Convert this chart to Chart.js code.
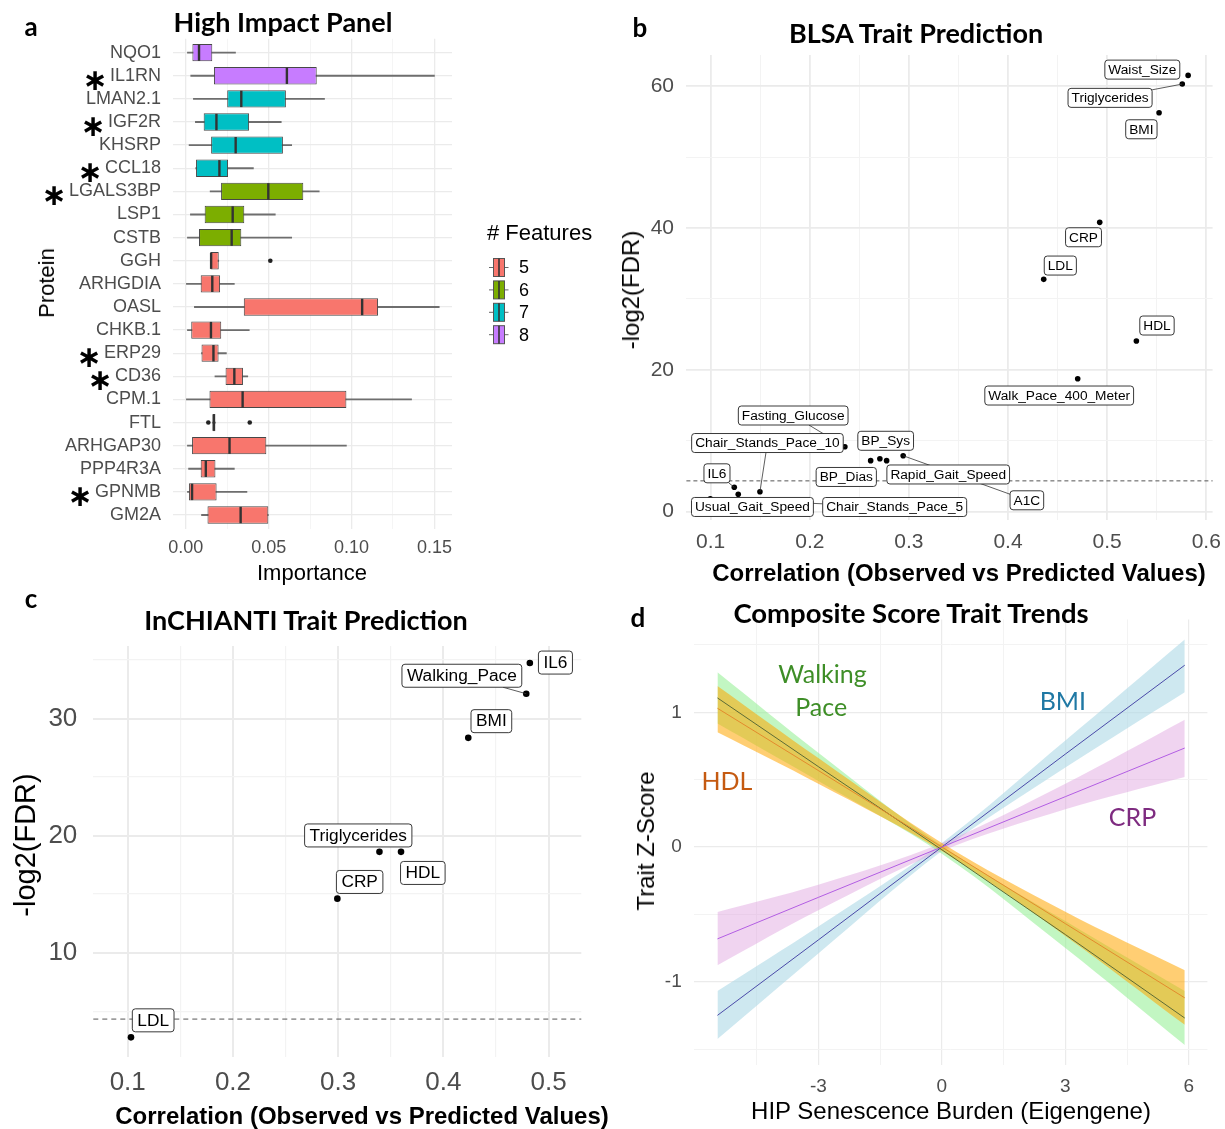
<!DOCTYPE html>
<html>
<head>
<meta charset="utf-8">
<script src="https://cdn.jsdelivr.net/npm/chart.js@4.4.1/dist/chart.umd.min.js"></script>
<style>
  html, body { margin: 0; padding: 0; background: #fff; }
  #page { position: relative; width: 1225px; height: 1129px; overflow: hidden; background: #fff; }
  .panel { position: absolute; }
  .panel canvas { display: block; }
  .t { position: absolute; white-space: nowrap; transform: translate(-50%, -50%); line-height: 1; color: #000; }
  .rot { transform: translate(-50%, -50%) rotate(-90deg); }
  .head { font-family: 'Lato', 'Open Sans', sans-serif; font-weight: 700; }
  .axis { font-family: 'Liberation Sans', Arial, sans-serif; }
</style>
</head>
<body>
<div id="page">
  <div class="panel" style="left:0;top:0;width:615px;height:590px"><canvas id="chartA" width="615" height="590"></canvas></div>
  <div class="panel" style="left:615px;top:0;width:610px;height:590px"><canvas id="chartB" width="610" height="590"></canvas></div>
  <div class="panel" style="left:0;top:590px;width:615px;height:539px"><canvas id="chartC" width="615" height="539"></canvas></div>
  <div class="panel" style="left:615px;top:590px;width:610px;height:539px"><canvas id="chartD" width="610" height="539"></canvas></div>

  <div class="t head" style="left:31px;top:26px;font-size:26px">a</div>
  <div class="t head" style="left:283px;top:21px;font-size:27px">High Impact Panel</div>
  <div class="t head" style="left:640px;top:27px;font-size:26px">b</div>
  <div class="t head" style="left:916px;top:32px;font-size:27px">BLSA Trait Prediction</div>
  <div class="t head" style="left:31px;top:598px;font-size:26px">c</div>
  <div class="t head" style="left:306px;top:619px;font-size:27px">InCHIANTI Trait Prediction</div>
  <div class="t head" style="left:638px;top:617px;font-size:26px">d</div>
  <div class="t head" style="left:911px;top:613px;font-size:27.5px">Composite Score Trait Trends</div>

  <div class="t axis rot" style="left:47px;top:283px;font-size:22px">Protein</div>
  <div class="t axis" style="left:312px;top:573px;font-size:22px">Importance</div>
  <div class="t axis rot" style="left:631px;top:290px;font-size:24px">-log2(FDR)</div>
  <div class="t axis" style="left:959px;top:573px;font-size:24px;font-weight:700">Correlation (Observed vs Predicted Values)</div>
  <div class="t axis rot" style="left:25px;top:845px;font-size:29px">-log2(FDR)</div>
  <div class="t axis" style="left:362px;top:1116px;font-size:24px;font-weight:700">Correlation (Observed vs Predicted Values)</div>
  <div class="t axis rot" style="left:646px;top:841px;font-size:24px">Trait Z-Score</div>
  <div class="t axis" style="left:951px;top:1111px;font-size:24px">HIP Senescence Burden (Eigengene)</div>
</div>

<script>
// ---------- Panel a: protein importance (box summaries) ----------
const proteins = ['NQO1','IL1RN','LMAN2.1','IGF2R','KHSRP','CCL18','LGALS3BP','LSP1','CSTB','GGH',
  'ARHGDIA','OASL','CHKB.1','ERP29','CD36','CPM.1','FTL','ARHGAP30','PPP4R3A','GPNMB','GM2A'];
const featureCount = [8,8,7,7,7,7,6,6,6,5,5,5,5,5,5,5,5,5,5,5,5];
const starred = ['IL1RN','IGF2R','CCL18','LGALS3BP','ERP29','CD36','GPNMB'];
const whiskerLow  = [0.001,0.003,0.0046,0.0058,0.002,0.006,0.0147,0.0028,0.001,0.0149,0.0,0.0052,0.001,0.0095,0.0176,0.0,0.0162,0.001,0.0017,0.001,0.0095];
const quartile1   = [0.004,0.017,0.025,0.0108,0.0153,0.0062,0.0213,0.0114,0.008,0.0149,0.009,0.035,0.0033,0.0095,0.024,0.0143,0.0162,0.0038,0.009,0.0019,0.0131];
const medians     = [0.008,0.061,0.0335,0.0185,0.0301,0.0203,0.0498,0.0283,0.0277,0.0153,0.016,0.1064,0.0152,0.0167,0.0293,0.0343,0.0169,0.0264,0.0121,0.0038,0.0331];
const quartile3   = [0.016,0.079,0.0604,0.0382,0.0586,0.0255,0.0709,0.0353,0.0335,0.0199,0.0207,0.116,0.0214,0.0198,0.0345,0.0969,0.0179,0.0486,0.0179,0.0186,0.0498];
const whiskerHigh = [0.030,0.150,0.0837,0.0576,0.0639,0.0408,0.0805,0.054,0.0639,0.0199,0.0293,0.1529,0.0383,0.0245,0.0374,0.1362,0.0179,0.0969,0.0293,0.0369,0.0498];
const outlierProtein = ['GGH','FTL','FTL'];
const outlierValue   = [0.051,0.0136,0.0386];
const featureLevels  = [5,6,7,8];
const featureColors  = ['#F8766D','#7CAE00','#00BFC4','#C77CFF'];
const importanceMajor = [0,0.05,0.10,0.15];
const importanceMinor = [0.025,0.075,0.125];

// ---------- Panel b: BLSA ----------
const blsaTraits = ['Waist_Size','Triglycerides','BMI','CRP','LDL','HDL','Walk_Pace_400_Meter','Fasting_Glucose',
  'Chair_Stands_Pace_10','IL6','Usual_Gait_Speed','Chair_Stands_Pace_5','BP_Dias','BP_Sys','Rapid_Gait_Speed','A1C'];
const blsaCorr = [0.5817,0.5758,0.5524,0.4925,0.436,0.5295,0.4703,0.2354,0.1497,0.1238,0.1278,0.0996,0.2614,0.2707,0.2775,0.2942];
const blsaNegLog2FDR = [61.52,60.3,56.25,40.79,32.75,24.05,18.73,9.14,2.79,3.41,2.43,1.79,7.17,7.45,7.17,7.87];
const blsaXMajor = [0.1,0.2,0.3,0.4,0.5,0.6];
const blsaXMinor = [0.15,0.25,0.35,0.45,0.55];
const blsaYMajor = [0,20,40,60];
const blsaYMinor = [10,30,50];

// ---------- Panel c: InCHIANTI ----------
const chiantiTraits = ['IL6','Walking_Pace','BMI','Triglycerides','HDL','CRP','LDL'];
const chiantiCorr = [0.4821,0.4787,0.4236,0.3392,0.3597,0.2992,0.1031];
const chiantiNegLog2FDR = [34.75,32.12,28.35,18.61,18.61,14.61,2.76];
const chiantiXMajor = [0.1,0.2,0.3,0.4,0.5];
const chiantiXMinor = [0.15,0.25,0.35,0.45];
const chiantiYMajor = [10,20,30];
const chiantiYMinor = [5,15,25,35];

// significance threshold, -log2(0.05)
const fdrThreshold = 4.32;

// ---------- Panel d: composite score trends ----------
const burden = [-5.45,-3,0,3,5.9];
const bmiFit  = [-1.25,-0.69,0.0,0.69,1.35];
const bmiLow  = [-1.425,-0.79,-0.03,0.59,1.15];
const bmiHigh = [-1.069,-0.59,0.03,0.79,1.54];
const crpFit  = [-0.682,-0.374,0.0,0.374,0.735];
const crpLow  = [-0.878,-0.47,-0.03,0.28,0.52];
const crpHigh = [-0.483,-0.28,0.03,0.47,0.945];
const walkFit  = [1.107,0.597,-0.02,-0.65,-1.27];
const walkLow  = [0.917,0.49,-0.05,-0.75,-1.47];
const walkHigh = [1.298,0.70,0.01,-0.55,-1.07];
const hdlFit  = [1.03,0.568,0.0,-0.569,-1.12];
const hdlLow  = [0.852,0.47,-0.03,-0.66,-1.32];
const hdlHigh = [1.196,0.66,0.03,-0.48,-0.915];
const burdenMajor = [-3,0,3,6];
const burdenMinor = [-4.5,-1.5,1.5,4.5];
const zMajor = [-1,0,1];
const zMinor = [-1.5,-0.5,0.5,1.5];
const trendNames = ['Walking','Pace','BMI','HDL','CRP'];
const trendNameX = [-2.9,-2.93,2.94,-5.22,4.63];
const trendNameY = [1.277,1.032,1.08,0.485,0.215];
const trendNameColors = ['#3E8E27','#3E8E27','#1F78A4','#C55A11','#7E2B80'];

// ---------- layout (label placement, pixels relative to the point) ----------
const blsaLabelShift = [[-45.8,-5.8],[-72.2,13.8],[-17.7,16.5],[-16.2,14.9],[16.6,-13.8],[20.6,-15.5],[-18.5,16.8],
  [-51.7,-31.2],[7.5,-48.7],[-17.3,-14],[14.2,12.7],[184.4,8.2],[-24.4,16.3],[5.8,-17.9],[61.6,13.8],[123.7,44.6]];
const blsaSegment = [0,1,0,0,0,0,0,1,1,1,0,1,0,0,0,1];
const chiantiLabelShift = [[25.6,-0.4],[-64.4,-18],[23.1,-16.7],[-21.2,-16.4],[21.8,21.1],[22.3,-16.7],[22.2,-17]];
const chiantiSegment = [0,1,0,0,0,0,0];

Chart.defaults.font.family = "'Liberation Sans', Arial, sans-serif";
Chart.defaults.color = '#4D4D4D';
Chart.defaults.animation = false;
Chart.defaults.plugins.legend.display = false;
Chart.defaults.plugins.tooltip.enabled = false;

const GRID_MAJOR = '#EBEBEB';
const GRID_MINOR = '#F3F3F3';

// linear axis with fixed box size, explicit major/minor grid and ggplot-like look
function axis(o) {
  const all = [...o.major, ...o.minor].sort((a, b) => a - b);
  return {
    type: 'linear', min: o.min, max: o.max, reverse: !!o.reverse, bounds: 'data',
    offset: false, beginAtZero: false,
    border: { display: false },
    grid: {
      offset: false,
      drawTicks: false,
      color: c => (o.major.includes(c.tick && c.tick.value) ? GRID_MAJOR : GRID_MINOR),
      lineWidth: c => (o.major.includes(c.tick && c.tick.value) ? (o.majorWidth || 1.3) : (o.minorWidth || 0.8))
    },
    ticks: {
      autoSkip: false, maxRotation: 0, padding: o.padding, color: '#4D4D4D',
      font: { size: o.fontSize },
      callback: v => (o.major.includes(v) ? o.fmt(v) : '')
    },
    afterBuildTicks: s => { s.ticks = all.map(v => ({ value: v })); },
    afterFit: s => {
      if (s.isHorizontal()) { s.height = o.size; s.paddingLeft = 0; s.paddingRight = 0; }
      else { s.width = o.size; s.paddingTop = 0; s.paddingBottom = 0; }
    }
  };
}

// ---------- Panel a ----------
const rowIndex = name => proteins.indexOf(name) + 1;
const boxColors = featureCount.map(n => featureColors[featureLevels.indexOf(n)]);

const boxExtras = {
  id: 'boxExtras',
  afterDatasetsDraw(chart) {
    const { ctx, scales } = chart;
    const meta = chart.getDatasetMeta(1);
    ctx.save();
    // medians
    ctx.strokeStyle = '#333333';
    ctx.lineWidth = 2.4;
    meta.data.forEach((bar, i) => {
      const x = scales.x.getPixelForValue(medians[i]);
      const h = bar.height;
      ctx.beginPath();
      ctx.moveTo(x, bar.y - h / 2 + 0.5);
      ctx.lineTo(x, bar.y + h / 2 - 0.5);
      ctx.stroke();
    });
    // asterisks in front of the highlighted proteins
    ctx.font = "18px 'Liberation Sans', Arial, sans-serif";
    const labelRight = chart.chartArea.left - 12;
    starred.forEach(name => {
      const y = scales.y.getPixelForValue(rowIndex(name));
      const w = ctx.measureText(name).width;
      ctx.save();
      ctx.font = "bold 30px 'DejaVu Sans', sans-serif";
      ctx.fillStyle = '#000';
      ctx.textAlign = 'center';
      ctx.textBaseline = 'middle';
      ctx.fillText('\u2217', labelRight - w - 15, y + 6);
      ctx.restore();
    });
    // legend
    const lx = 487, ly = 234;
    ctx.fillStyle = '#000';
    ctx.textAlign = 'left';
    ctx.textBaseline = 'middle';
    ctx.font = "22px 'Liberation Sans', Arial, sans-serif";
    ctx.fillText('# Features', lx, ly);
    ctx.font = "18px 'Liberation Sans', Arial, sans-serif";
    featureLevels.forEach((lev, i) => {
      const cy = 267.5 + i * 22.4;
      ctx.strokeStyle = '#666';
      ctx.lineWidth = 1;
      ctx.beginPath(); ctx.moveTo(489, cy); ctx.lineTo(508.5, cy); ctx.stroke();
      ctx.fillStyle = featureColors[i];
      ctx.fillRect(493.5, cy - 9, 11, 18);
      ctx.strokeStyle = '#555';
      ctx.strokeRect(493.5, cy - 9, 11, 18);
      ctx.strokeStyle = '#333';
      ctx.lineWidth = 1.6;
      ctx.beginPath(); ctx.moveTo(499, cy - 9); ctx.lineTo(499, cy + 9); ctx.stroke();
      ctx.fillStyle = '#000';
      ctx.fillText(String(lev), 519, cy + 1);
    });
    ctx.restore();
  }
};

new Chart(document.getElementById('chartA'), {
  type: 'bar',
  data: {
    datasets: [
      {
        label: 'whiskers', grouped: false, order: 3,
        data: proteins.map((p, i) => ({ y: i + 1, x: [whiskerLow[i], whiskerHigh[i]] })),
        backgroundColor: '#6E6E6E', barThickness: 1.2, borderWidth: 0
      },
      {
        label: 'boxes', grouped: false, order: 2,
        data: proteins.map((p, i) => ({ y: i + 1, x: [quartile1[i], quartile3[i]] })),
        backgroundColor: boxColors, borderColor: '#474747', borderWidth: 1, borderSkipped: false,
        barPercentage: 0.75, categoryPercentage: 1.0
      },
      {
        label: 'outliers', type: 'scatter', order: 1,
        data: outlierProtein.map((p, i) => ({ x: outlierValue[i], y: rowIndex(p) })),
        pointRadius: 2.3, pointBackgroundColor: '#222', pointBorderWidth: 0
      }
    ]
  },
  options: {
    indexAxis: 'y',
    responsive: false,
    layout: { padding: { left: 0, top: 38.8, right: 163, bottom: 0 } },
    scales: {
      x: axis({ min: -0.0077, max: 0.1606, major: importanceMajor, minor: importanceMinor, fontSize: 18,
        padding: 8, size: 61.1, fmt: v => v.toFixed(2) }),
      y: axis({ min: 0.4, max: 21.6, reverse: true, major: proteins.map((p, i) => i + 1), minor: [],
        fontSize: 18, padding: 12, size: 173, fmt: v => proteins[v - 1] })
    }
  },
  plugins: [boxExtras]
});

// ---------- labelled scatter (panels b, c) ----------
const repelLabels = {
  id: 'repelLabels',
  afterDatasetsDraw(chart, args, o) {
    const { ctx, chartArea, scales } = chart;
    ctx.save();
    // significance threshold
    const ty = scales.y.getPixelForValue(fdrThreshold);
    ctx.strokeStyle = '#555';
    ctx.lineWidth = 1;
    ctx.setLineDash(o.dash);
    ctx.beginPath(); ctx.moveTo(chartArea.left, ty); ctx.lineTo(chartArea.right, ty); ctx.stroke();
    ctx.setLineDash([]);
    const meta = chart.getDatasetMeta(0);
    ctx.font = o.font;
    const boxes = o.names.map((n, i) => {
      const p = meta.data[i];
      const w = ctx.measureText(n).width + 2 * o.padX;
      return { n, px: p.x, py: p.y, cx: p.x + o.shift[i][0], cy: p.y + o.shift[i][1], w, h: o.boxH, seg: o.seg[i] };
    });
    ctx.strokeStyle = '#333';
    ctx.lineWidth = 0.8;
    boxes.forEach(b => {
      if (!b.seg) return;
      const dx = b.px - b.cx, dy = b.py - b.cy;
      const tx = dx !== 0 ? (b.w / 2) / Math.abs(dx) : Infinity;
      const tyy = dy !== 0 ? (b.h / 2) / Math.abs(dy) : Infinity;
      const t = Math.min(tx, tyy);
      ctx.beginPath(); ctx.moveTo(b.cx + dx * t, b.cy + dy * t); ctx.lineTo(b.px, b.py); ctx.stroke();
    });
    boxes.forEach(b => {
      const x = b.cx - b.w / 2, y = b.cy - b.h / 2;
      ctx.beginPath();
      ctx.roundRect(x, y, b.w, b.h, 3);
      ctx.fillStyle = '#fff';
      ctx.fill();
      ctx.strokeStyle = '#222';
      ctx.lineWidth = 0.9;
      ctx.stroke();
      ctx.fillStyle = '#000';
      ctx.textAlign = 'center';
      ctx.textBaseline = 'middle';
      ctx.fillText(b.n, b.cx, b.cy + 0.5);
    });
    ctx.restore();
  }
};

new Chart(document.getElementById('chartB'), {
  type: 'scatter',
  data: { datasets: [{ data: blsaTraits.map((t, i) => ({ x: blsaCorr[i], y: blsaNegLog2FDR[i] })),
    pointRadius: 2.8, pointBackgroundColor: '#000', pointBorderWidth: 0 }] },
  options: {
    responsive: false,
    layout: { padding: { left: 0, top: 55, right: 12.4, bottom: 0 } },
    scales: {
      x: axis({ min: 0.0755, max: 0.6064, major: blsaXMajor, minor: blsaXMinor, fontSize: 21, padding: 10,
        size: 70, fmt: v => v.toFixed(1), majorWidth: 1.8, minorWidth: 1 }),
      y: axis({ min: -1.2, max: 64.4, major: blsaYMajor, minor: blsaYMinor, fontSize: 21, padding: 12.4,
        size: 71.4, fmt: v => String(v), majorWidth: 1.8, minorWidth: 1 })
    },
    plugins: { repelLabels: { names: blsaTraits, shift: blsaLabelShift, seg: blsaSegment,
      font: "13.7px 'Liberation Sans', Arial, sans-serif", padX: 3.5, boxH: 19, dash: [4, 3] } }
  },
  plugins: [repelLabels]
});

new Chart(document.getElementById('chartC'), {
  type: 'scatter',
  data: { datasets: [{ data: chiantiTraits.map((t, i) => ({ x: chiantiCorr[i], y: chiantiNegLog2FDR[i] })),
    pointRadius: 3.3, pointBackgroundColor: '#000', pointBorderWidth: 0 }] },
  options: {
    responsive: false,
    layout: { padding: { left: 0, top: 56, right: 33.7, bottom: 0 } },
    scales: {
      x: axis({ min: 0.0673, max: 0.531, major: chiantiXMajor, minor: chiantiXMinor, fontSize: 26, padding: 10,
        size: 72, fmt: v => v.toFixed(1), majorWidth: 2, minorWidth: 1.2 }),
      y: axis({ min: 1.08, max: 36.2, major: chiantiYMajor, minor: chiantiYMinor, fontSize: 26, padding: 16,
        size: 93.3, fmt: v => String(v), majorWidth: 2, minorWidth: 1.2 })
    },
    plugins: { repelLabels: { names: chiantiTraits, shift: chiantiLabelShift, seg: chiantiSegment,
      font: "17.3px 'Liberation Sans', Arial, sans-serif", padX: 5, boxH: 23, dash: [5, 4] } }
  },
  plugins: [repelLabels]
});

// ---------- Panel d ----------
const pts = ys => burden.map((x, i) => ({ x, y: ys[i] }));
const band = (ys, col, order, fill) => ({ data: pts(ys), borderWidth: 0, pointRadius: 0, backgroundColor: col,
  fill, order, tension: 0.35 });
const fitLine = (ys, col, order) => ({ data: pts(ys), borderColor: col, borderWidth: 1, pointRadius: 0, fill: false, order });

const trendNamesPlugin = {
  id: 'trendNames',
  afterDatasetsDraw(chart) {
    const { ctx, scales } = chart;
    ctx.save();
    ctx.font = "25px 'Lato', 'Open Sans', sans-serif";
    ctx.textAlign = 'center';
    ctx.textBaseline = 'middle';
    trendNames.forEach((n, i) => {
      ctx.fillStyle = trendNameColors[i];
      ctx.fillText(n, scales.x.getPixelForValue(trendNameX[i]), scales.y.getPixelForValue(trendNameY[i]));
    });
    ctx.restore();
  }
};

new Chart(document.getElementById('chartD'), {
  type: 'line',
  data: {
    datasets: [
      band(bmiHigh, 'rgba(173,216,230,0.6)', 20, '+1'), band(bmiLow, 'rgba(0,0,0,0)', 19, false),
      band(crpHigh, 'rgba(221,160,221,0.45)', 18, '+1'), band(crpLow, 'rgba(0,0,0,0)', 17, false),
      band(walkHigh, 'rgba(144,238,144,0.55)', 16, '+1'), band(walkLow, 'rgba(0,0,0,0)', 15, false),
      band(hdlHigh, 'rgba(255,165,0,0.55)', 14, '+1'), band(hdlLow, 'rgba(0,0,0,0)', 13, false),
      fitLine(bmiFit, '#4A4AA8', 4), fitLine(crpFit, '#B25DE3', 3),
      fitLine(walkFit, '#5C6B35', 2), fitLine(hdlFit, '#E38A2C', 1)
    ]
  },
  options: {
    responsive: false,
    layout: { padding: { left: 0, top: 29.4, right: 17.6, bottom: 0 } },
    scales: {
      x: axis({ min: -6.02, max: 6.45, major: burdenMajor, minor: burdenMinor, fontSize: 19, padding: 10.4,
        size: 63.8, fmt: v => String(v), majorWidth: 1.2, minorWidth: 1 }),
      y: axis({ min: -1.62, max: 1.69, major: zMajor, minor: zMinor, fontSize: 19, padding: 12.3,
        size: 79, fmt: v => String(v), majorWidth: 1.2, minorWidth: 1 })
    }
  },
  plugins: [trendNamesPlugin]
});
</script>
</body>
</html>
